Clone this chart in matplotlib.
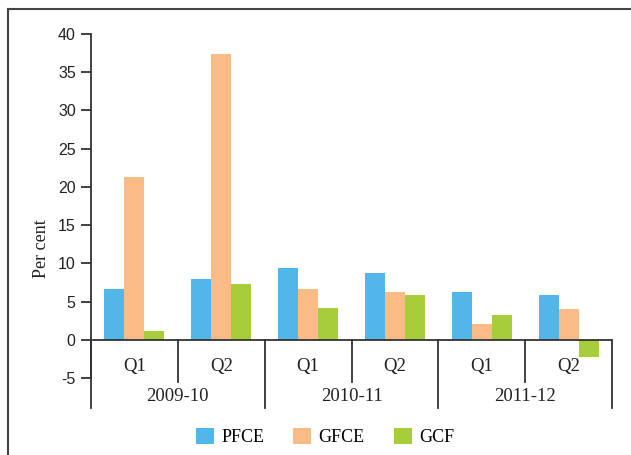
import numpy as np
import matplotlib.pyplot as plt
from matplotlib.lines import Line2D

plt.rcParams['axes.unicode_minus'] = False

# data
years = ['2009-10', '2010-11', '2011-12']
quarters = ['Q1', 'Q2', 'Q1', 'Q2', 'Q1', 'Q2']
pfce = [6.6, 7.9, 9.35, 8.8, 6.2, 5.8]
gfce = [21.3, 37.4, 6.7, 6.3, 2.0, 4.0]
gcf = [1.1, 7.25, 4.2, 5.8, 3.3, -2.2]

W, H = 631, 455
fig = plt.figure(figsize=(W / 100, H / 100), dpi=100)
ax = fig.add_axes([91 / W, 1 - 378 / H, (612 - 91) / W, (378 - 34) / H])

x = np.arange(len(quarters))
bw = 0.23
ax.bar(x - bw, pfce, bw, color='#52B7E8', label='PFCE')
ax.bar(x, gfce, bw, color='#FABB86', label='GFCE')
ax.bar(x + bw, gcf, bw, color='#A7CE3A', label='GCF')

ax.set_xlim(-0.5, len(quarters) - 0.5)
ax.set_ylim(-5, 40)
ax.set_yticks(range(-5, 41, 5))
ax.set_xticks([])
for s in ['top', 'right', 'bottom']:
    ax.spines[s].set_visible(False)
ax.spines['left'].set_color('#333333')
ax.spines['left'].set_linewidth(1.3)
ax.tick_params(axis='y', direction='out', length=7, width=1.3, color='#333333',
               labelsize=11.5, pad=4)
for lab in ax.get_yticklabels():
    lab.set_fontfamily('Liberation Sans')
    lab.set_color('#222222')

ax.axhline(0, color='#333333', lw=1.3)

# category axis: separators and labels
serif = 'Liberation Serif'
for i in range(len(quarters) + 1):
    xs = i - 0.5
    ybot = -8.9 if i % 2 == 0 else -5.5
    ax.add_line(Line2D([xs, xs], [0, ybot], color='#333333', lw=1.3, clip_on=False))
for i, q in enumerate(quarters):
    ax.text(i, -3.5, q, ha='center', va='center', fontsize=13.5, family=serif,
            color='#222222', clip_on=False)
for j, yr in enumerate(years):
    ax.text(2 * j + 0.5, -7.4, yr, ha='center', va='center', fontsize=13.5,
            family=serif, color='#222222', clip_on=False)

fig.text(42 / W, 1 - 249 / H, 'Per cent', rotation=90, ha='center', va='center',
         fontsize=13, family=serif, color='#222222')

leg = fig.legend(loc='center', bbox_to_anchor=(325 / W, 1 - 437 / H), ncol=3,
                 frameon=False, prop={'family': serif, 'size': 13},
                 handlelength=1.0, handleheight=1.0, columnspacing=1.6,
                 handletextpad=0.4)

# page frame
fig.add_artist(Line2D([7.5 / W, 7.5 / W], [0, 1 - 9 / H], color='#444444', lw=1.5))
fig.add_artist(Line2D([7.5 / W, 1], [1 - 9 / H, 1 - 9 / H], color='#444444', lw=1.5))

fig.savefig('out.png', dpi=100)
